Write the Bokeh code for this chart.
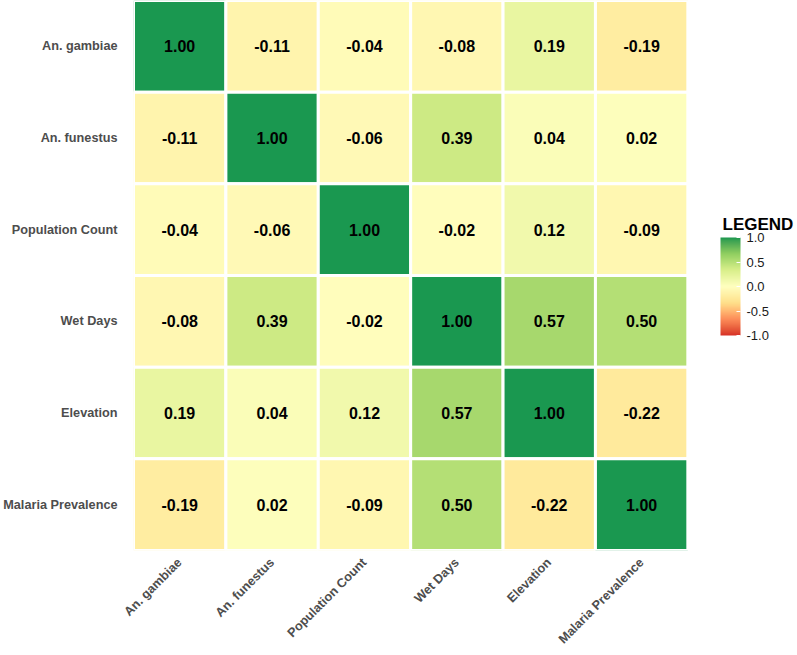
from bokeh.plotting import figure
from bokeh.models import (ColumnDataSource, ColorBar, LinearColorMapper, FixedTicker,
                          PrintfTickFormatter, Label, Range1d)
from bokeh.transform import transform
from bokeh.embed import file_html
from bokeh.resources import INLINE
from bokeh.core.properties import value

variables = ["An. gambiae", "An. funestus", "Population Count", "Wet Days", "Elevation", "Malaria Prevalence"]
corr_gambiae = [1.00, -0.11, -0.04, -0.08, 0.19, -0.19]
corr_funestus = [-0.11, 1.00, -0.06, 0.39, 0.04, 0.02]
corr_population = [-0.04, -0.06, 1.00, -0.02, 0.12, -0.09]
corr_wetdays = [-0.08, 0.39, -0.02, 1.00, 0.57, 0.50]
corr_elevation = [0.19, 0.04, 0.12, 0.57, 1.00, -0.22]
corr_malaria = [-0.19, 0.02, -0.09, 0.50, -0.22, 1.00]
rows = [corr_gambiae, corr_funestus, corr_population, corr_wetdays, corr_elevation, corr_malaria]
legend_ticks = [-1.0, -0.5, 0.0, 0.5, 1.0]

anchors = ["#d73027", "#fc8d59", "#fee08b", "#ffffbf", "#d9ef8b", "#91cf60", "#1a9850"]


def hex2rgb(h):
    h = h.lstrip("#")
    return [int(h[i:i + 2], 16) / 255 for i in (0, 2, 4)]


def srgb2lin(c):
    return c / 12.92 if c <= 0.04045 else ((c + 0.055) / 1.055) ** 2.4


def lin2srgb(c):
    c = max(0.0, min(1.0, c))
    return 12.92 * c if c <= 0.0031308 else 1.055 * c ** (1 / 2.4) - 0.055


Xn, Yn, Zn = 0.95047, 1.0, 1.08883


def f(t):
    return t ** (1 / 3) if t > 0.008856 else 7.787 * t + 16 / 116


def finv(t):
    return t ** 3 if t ** 3 > 0.008856 else (t - 16 / 116) / 7.787


def to_lab(h):
    r, g, b = [srgb2lin(c) for c in hex2rgb(h)]
    X = 0.4124 * r + 0.3576 * g + 0.1805 * b
    Y = 0.2126 * r + 0.7152 * g + 0.0722 * b
    Z = 0.0193 * r + 0.1192 * g + 0.9505 * b
    fx, fy, fz = f(X / Xn), f(Y / Yn), f(Z / Zn)
    return (116 * fy - 16, 500 * (fx - fy), 200 * (fy - fz))


def from_lab(L, a, b):
    fy = (L + 16) / 116
    fx = fy + a / 500
    fz = fy - b / 200
    X, Y, Z = Xn * finv(fx), Yn * finv(fy), Zn * finv(fz)
    r = 3.2406 * X - 1.5372 * Y - 0.4986 * Z
    g = -0.9689 * X + 1.8758 * Y + 0.0415 * Z
    bb = 0.0557 * X - 0.2040 * Y + 1.0570 * Z
    return "#%02x%02x%02x" % tuple(int(round(lin2srgb(c) * 255)) for c in (r, g, bb))


labs = [to_lab(c) for c in anchors]
N = 256
palette = []
for i in range(N):
    t = i / (N - 1) * (len(anchors) - 1)
    k = min(int(t), len(anchors) - 2)
    u = t - k
    L = labs[k][0] + (labs[k + 1][0] - labs[k][0]) * u
    A = labs[k][1] + (labs[k + 1][1] - labs[k][1]) * u
    B = labs[k][2] + (labs[k + 1][2] - labs[k][2]) * u
    palette.append(from_lab(L, A, B))

n = len(variables)
# numeric positions: one unit per variable, centred on .5; first row at the top
col_pos = {name: i + 0.5 for i, name in enumerate(variables)}
row_pos = {name: n - i - 0.5 for i, name in enumerate(variables)}

xs, ys, vals, labels = [], [], [], []
for rname, rvals in zip(variables, rows):
    for cname, v in zip(variables, rvals):
        xs.append(col_pos[cname])
        ys.append(row_pos[rname])
        vals.append(v)
        labels.append("%.2f" % v)

source = ColumnDataSource(dict(x=xs, y=ys, v=vals, label=labels))
mapper = LinearColorMapper(palette=palette, low=-1, high=1)

FONT = "Liberation Sans"
W, H = 797, 655
LEFT, GRID_RIGHT = 131, 687
FRAME_BOTTOM = 550

# frame extends past the grid to the right so the legend sits inside it
x_end = n * (W - LEFT) / (GRID_RIGHT - LEFT)

p = figure(width=W, height=H, x_range=Range1d(0, x_end), y_range=Range1d(0, n),
           output_backend="svg", toolbar_location=None,
           min_border_left=LEFT, min_border_right=0, min_border_top=0,
           min_border_bottom=H - FRAME_BOTTOM)
p.outline_line_color = None
p.xgrid.grid_line_color = None
p.ygrid.grid_line_color = None
p.background_fill_color = "white"
p.border_fill_color = "white"

p.rect(x="x", y="y", width=1, height=1, source=source,
       fill_color=transform("v", mapper), line_color="white", line_width=3)
p.text(x="x", y="y", text="label", source=source, text_align="center", text_baseline="middle",
       text_font=value(FONT), text_font_size="16px", text_font_style="bold", text_color="black")

p.xaxis.ticker = FixedTicker(ticks=[col_pos[v] for v in variables])
p.xaxis.major_label_overrides = {col_pos[v]: v for v in variables}
p.yaxis.ticker = FixedTicker(ticks=[row_pos[v] for v in variables])
p.yaxis.major_label_overrides = {row_pos[v]: v for v in variables}

for ax in (p.xaxis[0], p.yaxis[0]):
    ax.axis_line_color = None
    ax.major_tick_line_color = None
    ax.minor_tick_line_color = None
    ax.major_tick_out = 0
    ax.major_tick_in = 0
    ax.minor_tick_out = 0
    ax.minor_tick_in = 0
    ax.major_label_text_font = FONT
    ax.major_label_text_font_size = "12.7px"
    ax.major_label_text_font_style = "bold"
    ax.major_label_text_color = "#4d4d4d"

p.yaxis.major_label_standoff = 16
p.xaxis.major_label_orientation = 0.785398
p.xaxis.major_label_standoff = 10

cb = ColorBar(color_mapper=mapper, ticker=FixedTicker(ticks=legend_ticks),
              formatter=PrintfTickFormatter(format="%.1f"),
              width=20, height=98, location=(587, 215), padding=0,
              major_label_text_font=FONT, major_label_text_font_size="13px",
              major_label_text_color="#1a1a1a", label_standoff=6,
              major_tick_line_color="white", major_tick_in=4, major_tick_out=0,
              bar_line_color=None, border_line_color=None, background_fill_alpha=0)
p.add_layout(cb, "center")

title = Label(x=589, y=326, x_units="screen", y_units="screen", text="LEGEND",
              text_font=FONT, text_font_size="17px", text_font_style="bold",
              text_color="black", text_baseline="alphabetic", text_align="left")
p.add_layout(title, "center")

open("out.html", "w").write(file_html(p, INLINE))
